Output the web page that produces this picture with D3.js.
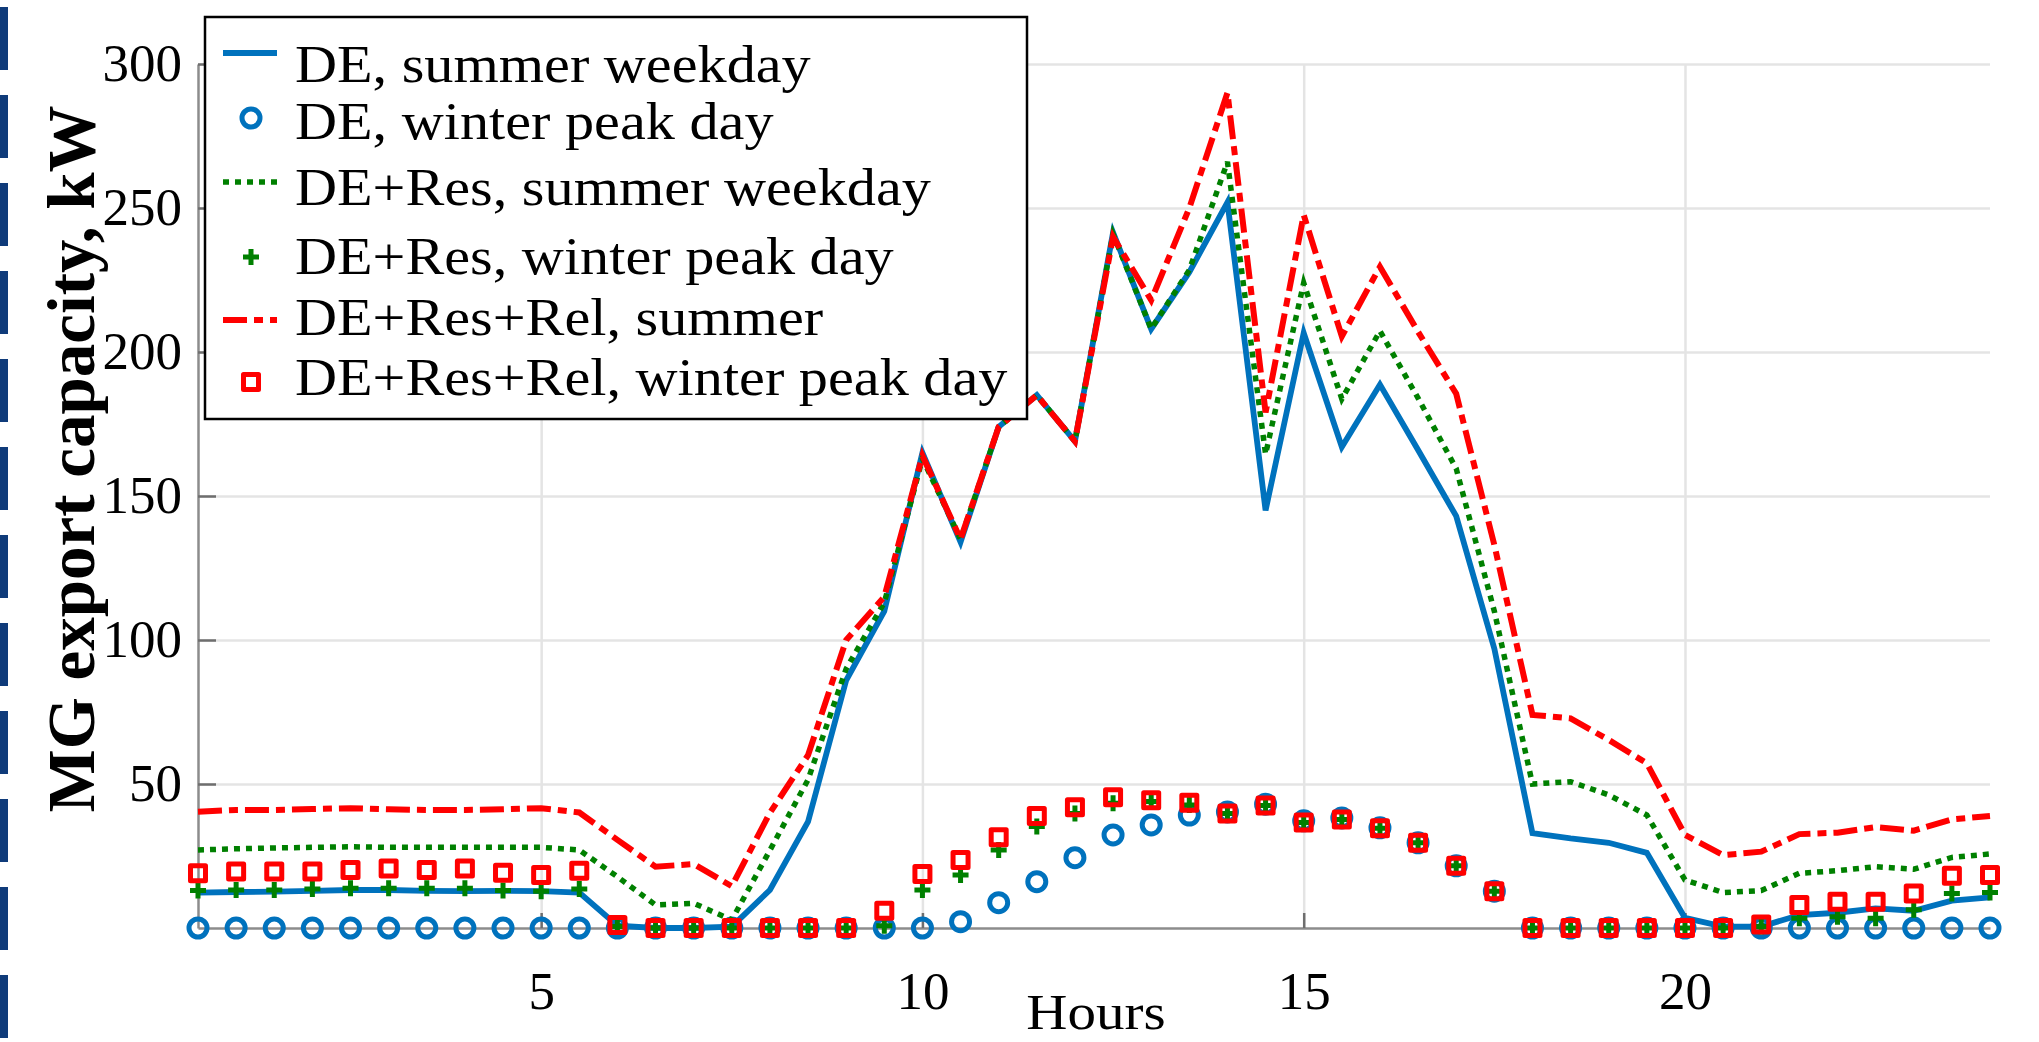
<!DOCTYPE html>
<html><head><meta charset="utf-8">
<script src="https://cdn.jsdelivr.net/npm/d3@7"></script>
<style>
html,body{margin:0;padding:0;background:#fff;overflow:hidden}
svg{display:block;background:#fff}
</style></head><body>
<svg id="chart" width="2039" height="1042"></svg>
<script>
// ---- data ----
const hours = [0.5,1,1.5,2,2.5,3,3.5,4,4.5,5,5.5,6,6.5,7,7.5,8,8.5,9,9.5,10,10.5,11,11.5,12,
               12.5,13,13.5,14,14.5,15,15.5,16,16.5,17,17.5,18,18.5,19,19.5,20,20.5,21,21.5,22,22.5,23,23.5,24];
const deSummer = [12.3,12.5,12.6,12.9,13.2,13.2,12.9,12.8,12.9,12.8,12.3,0.8,0,0,0.5,13.2,36.9,86,110,
                  165,134,174,185,169,241.5,208,227.7,252,145,206.6,167,188.7,166,143,97,
                  32.9,31.1,29.6,26.1,3.5,0.5,0.5,4.5,5.3,6.8,6.0,9.5,10.6];
const deWinter = [0,0,0,0,0,0,0,0,0,0,0,0,0,0,0,0,0,0,0,0,
                  2.2,8.8,16.1,24.4,32.3,35.8,39.2,40.3,43,37.2,38.2,34.8,29.6,21.6,12.8,
                  0,0,0,0,0,0,0,0,0,0,0,0,0];
const resSummer = [27.1,27.5,27.8,28.0,28.2,28.0,28.0,28.0,28.0,28.0,27.1,17.8,8.0,8.6,2.8,27,51.5,90,113,
                   163,135,174,185,169,241,208,228.5,266,164.5,224,183.7,207.3,184,159.5,110,
                   50,50.8,46.2,39.2,16.7,12.3,13.0,19.0,19.9,21.3,20.4,24.5,25.7];
const resWinter = [13.0,13.2,13.2,13.5,13.8,13.8,13.8,13.8,13.0,12.8,13.5,0.5,0,0,0,0,0,0,0.8,
                   13.2,18.4,27.1,35.2,39.8,43.3,43.9,42.7,39.8,42.5,36.6,37.7,34.6,29.6,21.6,12.8,
                   0,0,0,0,0,0,0.5,3.4,3.9,3.4,6.3,12.0,12.3];
const relSummer = [40.4,41.0,41.0,41.3,41.6,41.2,41.0,41.0,41.2,41.6,40.1,30.6,21.3,22.2,14.5,40,60,100,115,
                   164,135,174,185,169,240,218,250,290,179,247.6,205.4,229.6,207,185.5,133,
                   74,72.8,65.3,57.2,32.3,25.3,26.5,32.6,33.1,35.0,33.8,37.7,38.9];
const relWinter = [19.0,19.6,19.6,19.6,20.1,20.7,20.1,20.7,19.2,18.4,19.9,1.0,0,0,0,0,0,0,6.0,
                   18.75,23.6,31.5,38.9,41.9,45.4,44.4,43.5,39.8,42.5,36.6,37.7,34.6,29.6,21.6,12.8,
                   0,0,0,0,0,0,1.2,8.0,9.1,9.1,12.0,18.1,18.4];
const seriesNames = ["DE, summer weekday","DE, winter peak day","DE+Res, summer weekday",
                     "DE+Res, winter peak day","DE+Res+Rel, summer","DE+Res+Rel, winter peak day"];
const xTicks = [5,10,15,20];
const yTicks = [50,100,150,200,250,300];
const xLabel = "Hours";
const yLabel = "MG export capacity, kW";

// ---- layout / style ----
const BLUE = "#0072BD", GREEN = "#008000", RED = "#FF0000";
const serif = "'Liberation Serif','Times New Roman',serif";
const svg = d3.select("#chart");
const x = d3.scaleLinear().domain([0.5, 24]).range([198, 1990]);
const y = d3.scaleLinear().domain([0, 300]).range([928, 64]);

// decorative dashed bar at the left edge
svg.append("line").attr("x1", 4).attr("x2", 4).attr("y1", 7).attr("y2", 1042)
  .attr("stroke", "#0f3b7a").attr("stroke-width", 8).attr("stroke-dasharray", "63,25");

// grid
const gy = svg.append("g").attr("transform", `translate(${x(0.5)},0)`)
  .call(d3.axisLeft(y).tickValues(yTicks).tickSize(-(x(24) - x(0.5))).tickFormat(""));
gy.select(".domain").remove();
gy.selectAll("line").attr("stroke", "#e4e4e4").attr("stroke-width", 2.5);
const gx = svg.append("g").attr("transform", `translate(0,${y(0)})`)
  .call(d3.axisBottom(x).tickValues(xTicks).tickSize(-(y(0) - y(300))).tickFormat(""));
gx.select(".domain").remove();
gx.selectAll("line").attr("stroke", "#e4e4e4").attr("stroke-width", 2.5);

// axes
const ya = svg.append("g").attr("transform", `translate(${x(0.5)},0)`)
  .call(d3.axisLeft(y).tickValues(yTicks).tickSizeInner(-18).tickSizeOuter(0).tickPadding(16));
const xa = svg.append("g").attr("transform", `translate(0,${y(0)})`)
  .call(d3.axisBottom(x).tickValues(xTicks).tickSizeInner(-15).tickSizeOuter(0).tickPadding(43));
[ya, xa].forEach(a => {
  a.attr("font-family", serif).attr("font-size", 53);
  a.select(".domain").attr("stroke", "#8c8c8c").attr("stroke-width", 2.5);
  a.selectAll(".tick line").attr("stroke", "#6e6e6e").attr("stroke-width", 2.5);
  a.selectAll(".tick text").attr("fill", "#000");
});

// axis labels
svg.append("text").attr("transform", "translate(1096,1029) scale(1.14,1)")
  .attr("text-anchor", "middle").attr("font-family", serif).attr("font-size", 50)
  .attr("fill", "#000").text(xLabel);
svg.append("text").attr("transform", "translate(94,459) rotate(-90)")
  .attr("text-anchor", "middle").attr("font-family", serif).attr("font-weight", "bold")
  .attr("font-size", 67).attr("fill", "#000").text(yLabel);

// marker drawers
function circleMark(g, cx, cy) {
  g.append("circle").attr("cx", cx).attr("cy", cy).attr("r", 9)
    .attr("fill", "none").attr("stroke", BLUE).attr("stroke-width", 5);
}
function plusMark(g, cx, cy) {
  g.append("path").attr("d", `M${cx - 8},${cy}H${cx + 8}M${cx},${cy - 8}V${cy + 8}`)
    .attr("stroke", GREEN).attr("stroke-width", 5).attr("fill", "none");
}
function squareMark(g, cx, cy) {
  g.append("rect").attr("x", cx - 7.5).attr("y", cy - 7.5).attr("width", 15).attr("height", 15)
    .attr("fill", "none").attr("stroke", RED).attr("stroke-width", 5).attr("stroke-linejoin", "round");
}

const line = d3.line().x((d, i) => x(hours[i])).y(d => y(d));
const plot = svg.append("g");

function drawLine(vals, color, dash, w) {
  plot.append("path").datum(vals).attr("d", line).attr("fill", "none")
    .attr("stroke", color).attr("stroke-width", w).attr("stroke-dasharray", dash)
    .attr("stroke-linejoin", "miter").attr("stroke-miterlimit", 4);
}
function drawMarkers(vals, fn) {
  const g = plot.append("g");
  vals.forEach((v, i) => fn(g, x(hours[i]), y(v)));
}

drawLine(deSummer, BLUE, null, 5.8);
drawMarkers(deWinter, circleMark);
drawLine(resSummer, GREEN, "6,6", 5.5);
drawMarkers(resWinter, plusMark);
drawLine(relSummer, RED, "24,7,9,7", 6);
drawMarkers(relWinter, squareMark);

// legend
const lg = svg.append("g");
lg.append("rect").attr("x", 205).attr("y", 17).attr("width", 822).attr("height", 402)
  .attr("fill", "#fff").attr("stroke", "#000").attr("stroke-width", 2.5);
const legendRows = [
  {ty: 82, sy: 53}, {ty: 139, sy: 118}, {ty: 205, sy: 182},
  {ty: 274, sy: 257}, {ty: 335, sy: 320}, {ty: 395, sy: 382}
];
legendRows.forEach((r, i) => {
  lg.append("text").attr("transform", `translate(295,${r.ty}) scale(1.12,1)`)
    .attr("font-family", serif).attr("font-size", 52).attr("fill", "#000").text(seriesNames[i]);
});
const sample = (ly, color, dash, w) => lg.append("line").attr("x1", 223).attr("x2", 277)
  .attr("y1", ly).attr("y2", ly).attr("stroke", color).attr("stroke-width", w)
  .attr("stroke-dasharray", dash);
sample(legendRows[0].sy, BLUE, null, 5.8);
circleMark(lg, 251, legendRows[1].sy);
sample(legendRows[2].sy, GREEN, "6,6", 5.5);
plusMark(lg, 251, legendRows[3].sy);
sample(legendRows[4].sy, RED, "24,7,9,7", 6);
squareMark(lg, 251, legendRows[5].sy);
</script>
</body></html>
